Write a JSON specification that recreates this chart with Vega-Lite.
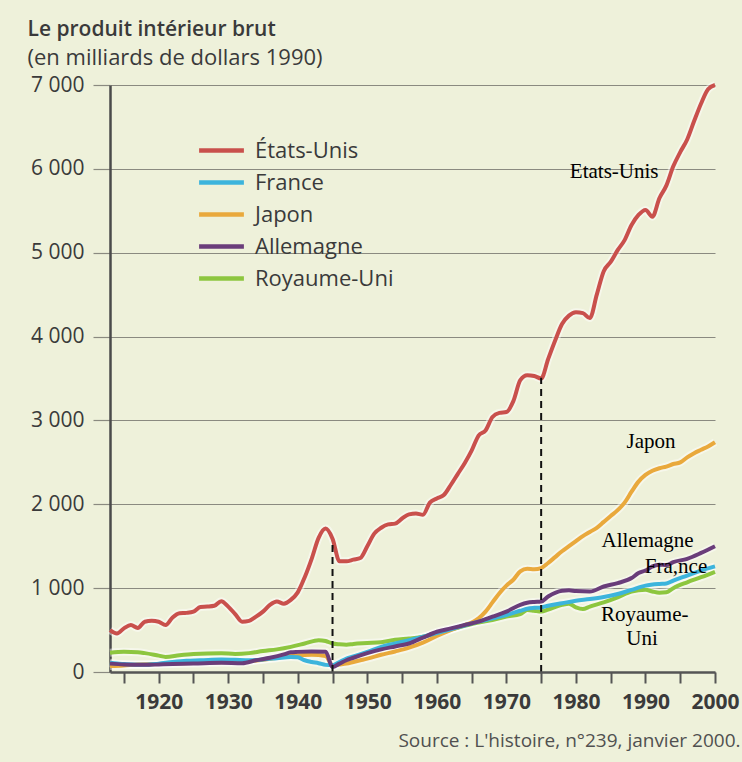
{
  "$schema": "https://vega.github.io/schema/vega-lite/v6.json",
  "width": 605,
  "height": 587,
  "autosize": {"type": "none"},
  "padding": {"left": 110, "top": 85, "right": 27, "bottom": 90},
  "background": "#eef1da",
  "title": {
    "text": "Le produit intérieur brut",
    "subtitle": "(en milliards de dollars 1990)",
    "anchor": "start",
    "frame": "bounds",
    "dx": -3,
    "font": "Open Sans",
    "fontSize": 21,
    "fontWeight": 600,
    "color": "#3a3a3a",
    "subtitleFont": "Open Sans",
    "subtitleFontSize": 22,
    "subtitleFontWeight": "normal",
    "subtitleColor": "#3a3a3a",
    "subtitlePadding": 8,
    "offset": 0
  },
  "datasets": {
    "pib": [
      {"pays": "États-Unis", "annee": 1913, "pib": 500},
      {"pays": "États-Unis", "annee": 1914, "pib": 460},
      {"pays": "États-Unis", "annee": 1915, "pib": 520},
      {"pays": "États-Unis", "annee": 1916, "pib": 560},
      {"pays": "États-Unis", "annee": 1917, "pib": 525},
      {"pays": "États-Unis", "annee": 1918, "pib": 600},
      {"pays": "États-Unis", "annee": 1919, "pib": 610},
      {"pays": "États-Unis", "annee": 1920, "pib": 600},
      {"pays": "États-Unis", "annee": 1921, "pib": 560},
      {"pays": "États-Unis", "annee": 1922, "pib": 650},
      {"pays": "États-Unis", "annee": 1923, "pib": 700},
      {"pays": "États-Unis", "annee": 1924, "pib": 705},
      {"pays": "États-Unis", "annee": 1925, "pib": 720},
      {"pays": "États-Unis", "annee": 1926, "pib": 775},
      {"pays": "États-Unis", "annee": 1927, "pib": 780},
      {"pays": "États-Unis", "annee": 1928, "pib": 790},
      {"pays": "États-Unis", "annee": 1929, "pib": 845},
      {"pays": "États-Unis", "annee": 1930, "pib": 780},
      {"pays": "États-Unis", "annee": 1931, "pib": 690},
      {"pays": "États-Unis", "annee": 1932, "pib": 600},
      {"pays": "États-Unis", "annee": 1933, "pib": 610},
      {"pays": "États-Unis", "annee": 1934, "pib": 660},
      {"pays": "États-Unis", "annee": 1935, "pib": 720},
      {"pays": "États-Unis", "annee": 1936, "pib": 800},
      {"pays": "États-Unis", "annee": 1937, "pib": 840},
      {"pays": "États-Unis", "annee": 1938, "pib": 815},
      {"pays": "États-Unis", "annee": 1939, "pib": 860},
      {"pays": "États-Unis", "annee": 1940, "pib": 950},
      {"pays": "États-Unis", "annee": 1941, "pib": 1130},
      {"pays": "États-Unis", "annee": 1942, "pib": 1350},
      {"pays": "États-Unis", "annee": 1943, "pib": 1600},
      {"pays": "États-Unis", "annee": 1944, "pib": 1710},
      {"pays": "États-Unis", "annee": 1945, "pib": 1590},
      {"pays": "États-Unis", "annee": 1946, "pib": 1320},
      {"pays": "États-Unis", "annee": 1947, "pib": 1320},
      {"pays": "États-Unis", "annee": 1948, "pib": 1340},
      {"pays": "États-Unis", "annee": 1949, "pib": 1360},
      {"pays": "États-Unis", "annee": 1950, "pib": 1500},
      {"pays": "États-Unis", "annee": 1951, "pib": 1650},
      {"pays": "États-Unis", "annee": 1952, "pib": 1720},
      {"pays": "États-Unis", "annee": 1953, "pib": 1760},
      {"pays": "États-Unis", "annee": 1954, "pib": 1770},
      {"pays": "États-Unis", "annee": 1955, "pib": 1830},
      {"pays": "États-Unis", "annee": 1956, "pib": 1880},
      {"pays": "États-Unis", "annee": 1957, "pib": 1890},
      {"pays": "États-Unis", "annee": 1958, "pib": 1875},
      {"pays": "États-Unis", "annee": 1959, "pib": 2020},
      {"pays": "États-Unis", "annee": 1960, "pib": 2070},
      {"pays": "États-Unis", "annee": 1961, "pib": 2110},
      {"pays": "États-Unis", "annee": 1962, "pib": 2230},
      {"pays": "États-Unis", "annee": 1963, "pib": 2360},
      {"pays": "États-Unis", "annee": 1964, "pib": 2490},
      {"pays": "États-Unis", "annee": 1965, "pib": 2640},
      {"pays": "États-Unis", "annee": 1966, "pib": 2820},
      {"pays": "États-Unis", "annee": 1967, "pib": 2880},
      {"pays": "États-Unis", "annee": 1968, "pib": 3040},
      {"pays": "États-Unis", "annee": 1969, "pib": 3090},
      {"pays": "États-Unis", "annee": 1970, "pib": 3100},
      {"pays": "États-Unis", "annee": 1971, "pib": 3230},
      {"pays": "États-Unis", "annee": 1972, "pib": 3480},
      {"pays": "États-Unis", "annee": 1973, "pib": 3540},
      {"pays": "États-Unis", "annee": 1974, "pib": 3530},
      {"pays": "États-Unis", "annee": 1975, "pib": 3500},
      {"pays": "États-Unis", "annee": 1976, "pib": 3730},
      {"pays": "États-Unis", "annee": 1977, "pib": 3950},
      {"pays": "États-Unis", "annee": 1978, "pib": 4150},
      {"pays": "États-Unis", "annee": 1979, "pib": 4250},
      {"pays": "États-Unis", "annee": 1980, "pib": 4290},
      {"pays": "États-Unis", "annee": 1981, "pib": 4280},
      {"pays": "États-Unis", "annee": 1982, "pib": 4220},
      {"pays": "États-Unis", "annee": 1983, "pib": 4500},
      {"pays": "États-Unis", "annee": 1984, "pib": 4780},
      {"pays": "États-Unis", "annee": 1985, "pib": 4890},
      {"pays": "États-Unis", "annee": 1986, "pib": 5030},
      {"pays": "États-Unis", "annee": 1987, "pib": 5150},
      {"pays": "États-Unis", "annee": 1988, "pib": 5330},
      {"pays": "États-Unis", "annee": 1989, "pib": 5450},
      {"pays": "États-Unis", "annee": 1990, "pib": 5510},
      {"pays": "États-Unis", "annee": 1991, "pib": 5430},
      {"pays": "États-Unis", "annee": 1992, "pib": 5650},
      {"pays": "États-Unis", "annee": 1993, "pib": 5800},
      {"pays": "États-Unis", "annee": 1994, "pib": 6030},
      {"pays": "États-Unis", "annee": 1995, "pib": 6200},
      {"pays": "États-Unis", "annee": 1996, "pib": 6350},
      {"pays": "États-Unis", "annee": 1997, "pib": 6570},
      {"pays": "États-Unis", "annee": 1998, "pib": 6780},
      {"pays": "États-Unis", "annee": 1999, "pib": 6950},
      {"pays": "États-Unis", "annee": 2000, "pib": 7000},

      {"pays": "Royaume-Uni", "annee": 1913, "pib": 230},
      {"pays": "Royaume-Uni", "annee": 1915, "pib": 240},
      {"pays": "Royaume-Uni", "annee": 1917, "pib": 235},
      {"pays": "Royaume-Uni", "annee": 1918, "pib": 225},
      {"pays": "Royaume-Uni", "annee": 1920, "pib": 195},
      {"pays": "Royaume-Uni", "annee": 1921, "pib": 180},
      {"pays": "Royaume-Uni", "annee": 1923, "pib": 200},
      {"pays": "Royaume-Uni", "annee": 1925, "pib": 215},
      {"pays": "Royaume-Uni", "annee": 1929, "pib": 225},
      {"pays": "Royaume-Uni", "annee": 1931, "pib": 215},
      {"pays": "Royaume-Uni", "annee": 1933, "pib": 225},
      {"pays": "Royaume-Uni", "annee": 1935, "pib": 250},
      {"pays": "Royaume-Uni", "annee": 1937, "pib": 270},
      {"pays": "Royaume-Uni", "annee": 1939, "pib": 300},
      {"pays": "Royaume-Uni", "annee": 1941, "pib": 340},
      {"pays": "Royaume-Uni", "annee": 1943, "pib": 380},
      {"pays": "Royaume-Uni", "annee": 1944, "pib": 370},
      {"pays": "Royaume-Uni", "annee": 1945, "pib": 340},
      {"pays": "Royaume-Uni", "annee": 1946, "pib": 330},
      {"pays": "Royaume-Uni", "annee": 1947, "pib": 325},
      {"pays": "Royaume-Uni", "annee": 1948, "pib": 335},
      {"pays": "Royaume-Uni", "annee": 1950, "pib": 345},
      {"pays": "Royaume-Uni", "annee": 1952, "pib": 355},
      {"pays": "Royaume-Uni", "annee": 1954, "pib": 385},
      {"pays": "Royaume-Uni", "annee": 1956, "pib": 400},
      {"pays": "Royaume-Uni", "annee": 1958, "pib": 420},
      {"pays": "Royaume-Uni", "annee": 1960, "pib": 465},
      {"pays": "Royaume-Uni", "annee": 1962, "pib": 505},
      {"pays": "Royaume-Uni", "annee": 1964, "pib": 550},
      {"pays": "Royaume-Uni", "annee": 1966, "pib": 590},
      {"pays": "Royaume-Uni", "annee": 1968, "pib": 620},
      {"pays": "Royaume-Uni", "annee": 1970, "pib": 660},
      {"pays": "Royaume-Uni", "annee": 1972, "pib": 690},
      {"pays": "Royaume-Uni", "annee": 1973, "pib": 740},
      {"pays": "Royaume-Uni", "annee": 1974, "pib": 730},
      {"pays": "Royaume-Uni", "annee": 1975, "pib": 720},
      {"pays": "Royaume-Uni", "annee": 1976, "pib": 745},
      {"pays": "Royaume-Uni", "annee": 1978, "pib": 800},
      {"pays": "Royaume-Uni", "annee": 1979, "pib": 815},
      {"pays": "Royaume-Uni", "annee": 1980, "pib": 770},
      {"pays": "Royaume-Uni", "annee": 1981, "pib": 750},
      {"pays": "Royaume-Uni", "annee": 1982, "pib": 780},
      {"pays": "Royaume-Uni", "annee": 1984, "pib": 830},
      {"pays": "Royaume-Uni", "annee": 1986, "pib": 890},
      {"pays": "Royaume-Uni", "annee": 1988, "pib": 960},
      {"pays": "Royaume-Uni", "annee": 1990, "pib": 980},
      {"pays": "Royaume-Uni", "annee": 1991, "pib": 960},
      {"pays": "Royaume-Uni", "annee": 1992, "pib": 945},
      {"pays": "Royaume-Uni", "annee": 1993, "pib": 950},
      {"pays": "Royaume-Uni", "annee": 1994, "pib": 1000},
      {"pays": "Royaume-Uni", "annee": 1996, "pib": 1070},
      {"pays": "Royaume-Uni", "annee": 1998, "pib": 1130},
      {"pays": "Royaume-Uni", "annee": 2000, "pib": 1195},

      {"pays": "Japon", "annee": 1913, "pib": 72},
      {"pays": "Japon", "annee": 1915, "pib": 78},
      {"pays": "Japon", "annee": 1917, "pib": 90},
      {"pays": "Japon", "annee": 1920, "pib": 95},
      {"pays": "Japon", "annee": 1922, "pib": 100},
      {"pays": "Japon", "annee": 1925, "pib": 108},
      {"pays": "Japon", "annee": 1928, "pib": 115},
      {"pays": "Japon", "annee": 1930, "pib": 118},
      {"pays": "Japon", "annee": 1932, "pib": 125},
      {"pays": "Japon", "annee": 1935, "pib": 145},
      {"pays": "Japon", "annee": 1937, "pib": 170},
      {"pays": "Japon", "annee": 1939, "pib": 195},
      {"pays": "Japon", "annee": 1940, "pib": 200},
      {"pays": "Japon", "annee": 1942, "pib": 205},
      {"pays": "Japon", "annee": 1944, "pib": 190},
      {"pays": "Japon", "annee": 1945, "pib": 80},
      {"pays": "Japon", "annee": 1946, "pib": 90},
      {"pays": "Japon", "annee": 1947, "pib": 100},
      {"pays": "Japon", "annee": 1948, "pib": 120},
      {"pays": "Japon", "annee": 1949, "pib": 140},
      {"pays": "Japon", "annee": 1950, "pib": 160},
      {"pays": "Japon", "annee": 1952, "pib": 205},
      {"pays": "Japon", "annee": 1954, "pib": 245},
      {"pays": "Japon", "annee": 1956, "pib": 290},
      {"pays": "Japon", "annee": 1958, "pib": 350},
      {"pays": "Japon", "annee": 1960, "pib": 430},
      {"pays": "Japon", "annee": 1962, "pib": 500},
      {"pays": "Japon", "annee": 1964, "pib": 560},
      {"pays": "Japon", "annee": 1965, "pib": 590},
      {"pays": "Japon", "annee": 1966, "pib": 640},
      {"pays": "Japon", "annee": 1967, "pib": 720},
      {"pays": "Japon", "annee": 1968, "pib": 830},
      {"pays": "Japon", "annee": 1969, "pib": 940},
      {"pays": "Japon", "annee": 1970, "pib": 1030},
      {"pays": "Japon", "annee": 1971, "pib": 1100},
      {"pays": "Japon", "annee": 1972, "pib": 1200},
      {"pays": "Japon", "annee": 1973, "pib": 1230},
      {"pays": "Japon", "annee": 1974, "pib": 1225},
      {"pays": "Japon", "annee": 1975, "pib": 1240},
      {"pays": "Japon", "annee": 1976, "pib": 1300},
      {"pays": "Japon", "annee": 1977, "pib": 1370},
      {"pays": "Japon", "annee": 1978, "pib": 1440},
      {"pays": "Japon", "annee": 1979, "pib": 1500},
      {"pays": "Japon", "annee": 1980, "pib": 1560},
      {"pays": "Japon", "annee": 1981, "pib": 1620},
      {"pays": "Japon", "annee": 1982, "pib": 1670},
      {"pays": "Japon", "annee": 1983, "pib": 1720},
      {"pays": "Japon", "annee": 1984, "pib": 1790},
      {"pays": "Japon", "annee": 1985, "pib": 1860},
      {"pays": "Japon", "annee": 1986, "pib": 1930},
      {"pays": "Japon", "annee": 1987, "pib": 2020},
      {"pays": "Japon", "annee": 1988, "pib": 2150},
      {"pays": "Japon", "annee": 1989, "pib": 2270},
      {"pays": "Japon", "annee": 1990, "pib": 2350},
      {"pays": "Japon", "annee": 1991, "pib": 2400},
      {"pays": "Japon", "annee": 1992, "pib": 2430},
      {"pays": "Japon", "annee": 1993, "pib": 2450},
      {"pays": "Japon", "annee": 1994, "pib": 2480},
      {"pays": "Japon", "annee": 1995, "pib": 2500},
      {"pays": "Japon", "annee": 1996, "pib": 2560},
      {"pays": "Japon", "annee": 1997, "pib": 2610},
      {"pays": "Japon", "annee": 1998, "pib": 2650},
      {"pays": "Japon", "annee": 1999, "pib": 2690},
      {"pays": "Japon", "annee": 2000, "pib": 2740},

      {"pays": "France", "annee": 1913, "pib": 110},
      {"pays": "France", "annee": 1914, "pib": 100},
      {"pays": "France", "annee": 1915, "pib": 95},
      {"pays": "France", "annee": 1918, "pib": 85},
      {"pays": "France", "annee": 1920, "pib": 100},
      {"pays": "France", "annee": 1922, "pib": 120},
      {"pays": "France", "annee": 1924, "pib": 135},
      {"pays": "France", "annee": 1926, "pib": 140},
      {"pays": "France", "annee": 1929, "pib": 150},
      {"pays": "France", "annee": 1931, "pib": 145},
      {"pays": "France", "annee": 1933, "pib": 140},
      {"pays": "France", "annee": 1935, "pib": 150},
      {"pays": "France", "annee": 1937, "pib": 165},
      {"pays": "France", "annee": 1939, "pib": 180},
      {"pays": "France", "annee": 1940, "pib": 175},
      {"pays": "France", "annee": 1941, "pib": 140},
      {"pays": "France", "annee": 1942, "pib": 120},
      {"pays": "France", "annee": 1943, "pib": 105},
      {"pays": "France", "annee": 1944, "pib": 85},
      {"pays": "France", "annee": 1945, "pib": 80},
      {"pays": "France", "annee": 1946, "pib": 120},
      {"pays": "France", "annee": 1947, "pib": 160},
      {"pays": "France", "annee": 1948, "pib": 185},
      {"pays": "France", "annee": 1950, "pib": 240},
      {"pays": "France", "annee": 1952, "pib": 300},
      {"pays": "France", "annee": 1954, "pib": 340},
      {"pays": "France", "annee": 1956, "pib": 380},
      {"pays": "France", "annee": 1958, "pib": 420},
      {"pays": "France", "annee": 1960, "pib": 465},
      {"pays": "France", "annee": 1962, "pib": 510},
      {"pays": "France", "annee": 1964, "pib": 555},
      {"pays": "France", "annee": 1966, "pib": 600},
      {"pays": "France", "annee": 1968, "pib": 640},
      {"pays": "France", "annee": 1970, "pib": 680},
      {"pays": "France", "annee": 1972, "pib": 730},
      {"pays": "France", "annee": 1973, "pib": 755},
      {"pays": "France", "annee": 1974, "pib": 765},
      {"pays": "France", "annee": 1975, "pib": 770},
      {"pays": "France", "annee": 1976, "pib": 790},
      {"pays": "France", "annee": 1978, "pib": 820},
      {"pays": "France", "annee": 1980, "pib": 850},
      {"pays": "France", "annee": 1982, "pib": 870},
      {"pays": "France", "annee": 1984, "pib": 895},
      {"pays": "France", "annee": 1986, "pib": 930},
      {"pays": "France", "annee": 1988, "pib": 980},
      {"pays": "France", "annee": 1990, "pib": 1030},
      {"pays": "France", "annee": 1992, "pib": 1050},
      {"pays": "France", "annee": 1993, "pib": 1055},
      {"pays": "France", "annee": 1994, "pib": 1090},
      {"pays": "France", "annee": 1996, "pib": 1150},
      {"pays": "France", "annee": 1998, "pib": 1210},
      {"pays": "France", "annee": 2000, "pib": 1260},

      {"pays": "Allemagne", "annee": 1913, "pib": 100},
      {"pays": "Allemagne", "annee": 1915, "pib": 90},
      {"pays": "Allemagne", "annee": 1918, "pib": 85},
      {"pays": "Allemagne", "annee": 1920, "pib": 90},
      {"pays": "Allemagne", "annee": 1922, "pib": 95},
      {"pays": "Allemagne", "annee": 1925, "pib": 100},
      {"pays": "Allemagne", "annee": 1929, "pib": 110},
      {"pays": "Allemagne", "annee": 1932, "pib": 105},
      {"pays": "Allemagne", "annee": 1934, "pib": 140},
      {"pays": "Allemagne", "annee": 1936, "pib": 170},
      {"pays": "Allemagne", "annee": 1938, "pib": 210},
      {"pays": "Allemagne", "annee": 1939, "pib": 235},
      {"pays": "Allemagne", "annee": 1940, "pib": 240},
      {"pays": "Allemagne", "annee": 1942, "pib": 245},
      {"pays": "Allemagne", "annee": 1944, "pib": 242},
      {"pays": "Allemagne", "annee": 1945, "pib": 60},
      {"pays": "Allemagne", "annee": 1946, "pib": 100},
      {"pays": "Allemagne", "annee": 1947, "pib": 140},
      {"pays": "Allemagne", "annee": 1948, "pib": 170},
      {"pays": "Allemagne", "annee": 1950, "pib": 225},
      {"pays": "Allemagne", "annee": 1952, "pib": 270},
      {"pays": "Allemagne", "annee": 1954, "pib": 305},
      {"pays": "Allemagne", "annee": 1956, "pib": 340},
      {"pays": "Allemagne", "annee": 1958, "pib": 410},
      {"pays": "Allemagne", "annee": 1960, "pib": 480},
      {"pays": "Allemagne", "annee": 1962, "pib": 520},
      {"pays": "Allemagne", "annee": 1964, "pib": 560},
      {"pays": "Allemagne", "annee": 1966, "pib": 600},
      {"pays": "Allemagne", "annee": 1968, "pib": 660},
      {"pays": "Allemagne", "annee": 1970, "pib": 720},
      {"pays": "Allemagne", "annee": 1972, "pib": 800},
      {"pays": "Allemagne", "annee": 1973, "pib": 825},
      {"pays": "Allemagne", "annee": 1974, "pib": 835},
      {"pays": "Allemagne", "annee": 1975, "pib": 840},
      {"pays": "Allemagne", "annee": 1976, "pib": 900},
      {"pays": "Allemagne", "annee": 1978, "pib": 970},
      {"pays": "Allemagne", "annee": 1979, "pib": 975},
      {"pays": "Allemagne", "annee": 1980, "pib": 965},
      {"pays": "Allemagne", "annee": 1982, "pib": 960},
      {"pays": "Allemagne", "annee": 1984, "pib": 1020},
      {"pays": "Allemagne", "annee": 1986, "pib": 1060},
      {"pays": "Allemagne", "annee": 1988, "pib": 1120},
      {"pays": "Allemagne", "annee": 1989, "pib": 1180},
      {"pays": "Allemagne", "annee": 1990, "pib": 1210},
      {"pays": "Allemagne", "annee": 1991, "pib": 1260},
      {"pays": "Allemagne", "annee": 1992, "pib": 1280},
      {"pays": "Allemagne", "annee": 1993, "pib": 1275},
      {"pays": "Allemagne", "annee": 1994, "pib": 1310},
      {"pays": "Allemagne", "annee": 1996, "pib": 1350},
      {"pays": "Allemagne", "annee": 1998, "pib": 1420},
      {"pays": "Allemagne", "annee": 2000, "pib": 1500}
    ],
    "reperes": [
      {"annee": 1945, "pib": 0, "haut": 1560},
      {"annee": 1975, "pib": 0, "haut": 3510}
    ],
    "etiquettes": [
      {"texte": "Etats-Unis", "annee": 1985.5, "pib": 5966},
      {"texte": "Japon", "annee": 1990.8, "pib": 2746},
      {"texte": "Allemagne", "annee": 1990.3, "pib": 1566},
      {"texte": "Fra,nce", "annee": 1994.4, "pib": 1256},
      {"texte": "Royaume-", "annee": 1989.9, "pib": 680},
      {"texte": "Uni", "annee": 1989.5, "pib": 390}
    ]
  },
  "encoding": {
    "y": {
      "field": "pib", "type": "quantitative",
      "scale": {"domain": [0, 7000], "nice": false},
      "title": null,
      "axis": {
        "values": [0, 1000, 2000, 3000, 4000, 5000, 6000, 7000],
        "labelExpr": "replace(format(datum.value, ',d'), ',', ' ')",
        "labelOverlap": false,
        "grid": true, "gridColor": "#8a8a80", "gridWidth": 1.2,
        "domainColor": "#4a4a4a", "domainWidth": 2.5,
        "tickColor": "#8a8a80", "tickWidth": 1.2, "tickSize": 17,
        "labelFont": "Open Sans", "labelFontSize": 21, "labelFontWeight": 500, "labelColor": "#3a3a3a", "labelPadding": 9
      }
    }
  },
  "resolve": {"axis": {"x": "independent"}},
  "layer": [
    {
      "data": {"name": "pib"},
      "mark": {"type": "line", "interpolate": "monotone", "strokeWidth": 8, "color": "#ffffff", "opacity": 0.45},
      "encoding": {
        "x": {
          "field": "annee", "type": "quantitative",
          "scale": {"domain": [1913, 2000], "nice": false, "zero": false},
          "title": null,
          "axis": {
            "orient": "bottom",
            "zindex": 2,
            "values": [1915, 1920, 1925, 1930, 1935, 1940, 1945, 1950, 1955, 1960, 1965, 1970, 1975, 1980, 1985, 1990, 1995, 2000],
            "labels": false,
            "ticks": true,
            "domain": true,
            "grid": false,
            "domainColor": "#555555", "domainWidth": 2.5,
            "tickColor": "#555555", "tickWidth": 2, "tickSize": 11
          }
        },
        "detail": {"field": "pays", "type": "nominal"}
      }
    },
    {
      "data": {"name": "pib"},
      "mark": {"type": "line", "interpolate": "monotone", "strokeWidth": 4},
      "encoding": {
        "x": {
          "field": "annee", "type": "quantitative",
          "title": "Source : L'histoire, n°239, janvier 2000.",
          "axis": {
            "orient": "bottom",
            "zindex": 1,
            "values": [1920, 1930, 1940, 1950, 1960, 1970, 1980, 1990, 2000],
            "format": "d",
            "labelOverlap": false,
            "labelFlush": false,
            "ticks": false,
            "domain": false,
            "grid": false,
            "labelFont": "Open Sans", "labelFontSize": 21, "labelFontWeight": "bold", "labelColor": "#3a3a3a", "labelPadding": 19,
            "titleFont": "Open Sans", "titleFontSize": 19, "titleFontWeight": "normal", "titleColor": "#505050",
            "titleAnchor": "end", "titleAlign": "right", "titleX": 630, "titleY": 74, "titleBaseline": "alphabetic"
          }
        },
        "color": {
          "field": "pays", "type": "nominal",
          "scale": {
            "domain": ["États-Unis", "France", "Japon", "Allemagne", "Royaume-Uni"],
            "range": ["#c9504c", "#3cb4dc", "#e9a93c", "#6a3d7a", "#8dc63f"]
          },
          "legend": {
            "title": null, "orient": "none", "legendX": 95, "legendY": 49,
            "symbolType": "M-1.6,0H1.6", "symbolSize": 784, "symbolStrokeWidth": 4.5, "symbolFillColor": "transparent",
            "labelFont": "Open Sans", "labelFontSize": 22, "labelColor": "#3a3a3a", "labelOffset": 17,
            "rowPadding": 4
          }
        }
      }
    },
    {
      "data": {"name": "reperes"},
      "mark": {"type": "rule", "strokeDash": [7, 5], "strokeWidth": 2, "color": "#111111"},
      "encoding": {
        "x": {"field": "annee", "type": "quantitative", "axis": null},
        "y2": {"field": "haut"}
      }
    },
    {
      "data": {"name": "etiquettes"},
      "mark": {"type": "text", "font": "Liberation Serif", "fontSize": 21, "color": "#000000", "align": "center", "baseline": "middle"},
      "encoding": {
        "x": {"field": "annee", "type": "quantitative", "axis": null},
        "text": {"field": "texte", "type": "nominal"}
      }
    }
  ],
  "config": {
    "view": {"stroke": null}
  }
}
